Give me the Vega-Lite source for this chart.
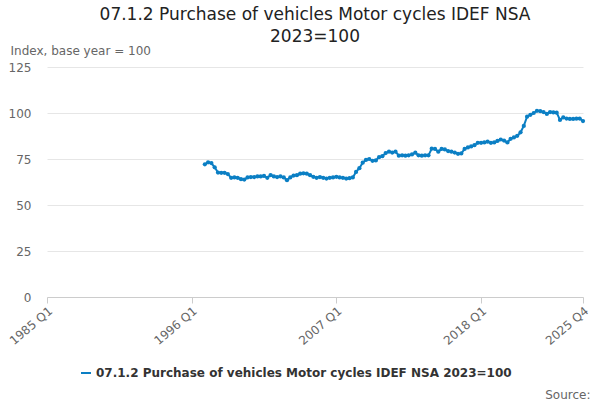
{
  "$schema": "https://vega.github.io/schema/vega-lite/v6.json",
  "autosize": "none",
  "width": 536,
  "height": 230,
  "padding": {"left": 47, "top": 67, "right": 17, "bottom": 103},
  "title": {
    "text": ["07.1.2 Purchase of vehicles Motor cycles IDEF NSA", "2023=100"],
    "fontSize": 17,
    "fontWeight": "normal",
    "font": "DejaVu Sans",
    "color": "#222",
    "anchor": "middle",
    "offset": -2,
    "lineHeight": 22
  },
  "data": {
    "values": [
      {"date": "1997-01-01", "v": 72.1}, {"date": "1997-04-01", "v": 73.2}, {"date": "1997-07-01", "v": 72.8}, {"date": "1997-10-01", "v": 70.5},
      {"date": "1998-01-01", "v": 67.6}, {"date": "1998-04-01", "v": 67.5}, {"date": "1998-07-01", "v": 67.5}, {"date": "1998-10-01", "v": 66.8},
      {"date": "1999-01-01", "v": 64.8}, {"date": "1999-04-01", "v": 65}, {"date": "1999-07-01", "v": 64.8}, {"date": "1999-10-01", "v": 64},
      {"date": "2000-01-01", "v": 63.8}, {"date": "2000-04-01", "v": 65}, {"date": "2000-07-01", "v": 65.2}, {"date": "2000-10-01", "v": 65.2},
      {"date": "2001-01-01", "v": 65.5}, {"date": "2001-04-01", "v": 65.5}, {"date": "2001-07-01", "v": 65.8}, {"date": "2001-10-01", "v": 64.8},
      {"date": "2002-01-01", "v": 66.3}, {"date": "2002-04-01", "v": 65.5}, {"date": "2002-07-01", "v": 65.2}, {"date": "2002-10-01", "v": 65.5},
      {"date": "2003-01-01", "v": 65}, {"date": "2003-04-01", "v": 63.5}, {"date": "2003-07-01", "v": 65}, {"date": "2003-10-01", "v": 66},
      {"date": "2004-01-01", "v": 66.2}, {"date": "2004-04-01", "v": 67}, {"date": "2004-07-01", "v": 67.2}, {"date": "2004-10-01", "v": 67},
      {"date": "2005-01-01", "v": 66.2}, {"date": "2005-04-01", "v": 65.3}, {"date": "2005-07-01", "v": 64.8}, {"date": "2005-10-01", "v": 65.2},
      {"date": "2006-01-01", "v": 64.8}, {"date": "2006-04-01", "v": 64.4}, {"date": "2006-07-01", "v": 64.8}, {"date": "2006-10-01", "v": 65},
      {"date": "2007-01-01", "v": 65.3}, {"date": "2007-04-01", "v": 65}, {"date": "2007-07-01", "v": 64.8}, {"date": "2007-10-01", "v": 64.4},
      {"date": "2008-01-01", "v": 64.6}, {"date": "2008-04-01", "v": 65}, {"date": "2008-07-01", "v": 68}, {"date": "2008-10-01", "v": 70},
      {"date": "2009-01-01", "v": 73}, {"date": "2009-04-01", "v": 74.5}, {"date": "2009-07-01", "v": 75}, {"date": "2009-10-01", "v": 74},
      {"date": "2010-01-01", "v": 74.2}, {"date": "2010-04-01", "v": 76}, {"date": "2010-07-01", "v": 76.5}, {"date": "2010-10-01", "v": 78.2},
      {"date": "2011-01-01", "v": 79}, {"date": "2011-04-01", "v": 78.5}, {"date": "2011-07-01", "v": 79}, {"date": "2011-10-01", "v": 76.8},
      {"date": "2012-01-01", "v": 77}, {"date": "2012-04-01", "v": 76.8}, {"date": "2012-07-01", "v": 77}, {"date": "2012-10-01", "v": 77.5},
      {"date": "2013-01-01", "v": 78.4}, {"date": "2013-04-01", "v": 77}, {"date": "2013-07-01", "v": 76.8}, {"date": "2013-10-01", "v": 77},
      {"date": "2014-01-01", "v": 77}, {"date": "2014-04-01", "v": 80.6}, {"date": "2014-07-01", "v": 80.5}, {"date": "2014-10-01", "v": 79},
      {"date": "2015-01-01", "v": 80.5}, {"date": "2015-04-01", "v": 80.2}, {"date": "2015-07-01", "v": 79.3}, {"date": "2015-10-01", "v": 79},
      {"date": "2016-01-01", "v": 78.5}, {"date": "2016-04-01", "v": 77.8}, {"date": "2016-07-01", "v": 78}, {"date": "2016-10-01", "v": 80.5},
      {"date": "2017-01-01", "v": 81.3}, {"date": "2017-04-01", "v": 81.8}, {"date": "2017-07-01", "v": 82.5}, {"date": "2017-10-01", "v": 83.8},
      {"date": "2018-01-01", "v": 83.8}, {"date": "2018-04-01", "v": 84}, {"date": "2018-07-01", "v": 84.4}, {"date": "2018-10-01", "v": 83.8},
      {"date": "2019-01-01", "v": 84}, {"date": "2019-04-01", "v": 84.8}, {"date": "2019-07-01", "v": 85.6}, {"date": "2019-10-01", "v": 85},
      {"date": "2020-01-01", "v": 84}, {"date": "2020-04-01", "v": 86}, {"date": "2020-07-01", "v": 86.7}, {"date": "2020-10-01", "v": 87.6},
      {"date": "2021-01-01", "v": 89.5}, {"date": "2021-04-01", "v": 93}, {"date": "2021-07-01", "v": 98}, {"date": "2021-10-01", "v": 99},
      {"date": "2022-01-01", "v": 100}, {"date": "2022-04-01", "v": 101.2}, {"date": "2022-07-01", "v": 101}, {"date": "2022-10-01", "v": 100.5},
      {"date": "2023-01-01", "v": 99.5}, {"date": "2023-04-01", "v": 100.5}, {"date": "2023-07-01", "v": 100.3}, {"date": "2023-10-01", "v": 100.2},
      {"date": "2024-01-01", "v": 96.2}, {"date": "2024-04-01", "v": 97.6}, {"date": "2024-07-01", "v": 97}, {"date": "2024-10-01", "v": 96.8},
      {"date": "2025-01-01", "v": 96.8}, {"date": "2025-04-01", "v": 96.9}, {"date": "2025-07-01", "v": 97}, {"date": "2025-10-01", "v": 95.6}
    ]
  },
  "mark": {"type": "line", "strokeWidth": 2, "point": {"size": 18, "filled": true}},
  "encoding": {
    "x": {
      "field": "date",
      "type": "temporal",
      "scale": {"domain": ["1985-01-01", "2025-10-01"]},
      "axis": {
        "title": "Source:",
        "titleX": 543,
        "titleY": 92,
        "titleAlign": "right",
        "titleFontSize": 12,
        "titleFontWeight": "normal",
        "titleColor": "#666",
        "values": ["1985-01-01", "1996-01-01", "2007-01-01", "2018-01-01", "2025-10-01"],
        "labelExpr": "timeFormat(datum.value, '%Y') + ' Q' + (floor(month(datum.value) / 3) + 1)",
        "labelAngle": -40,
        "labelAlign": "right",
        "labelBaseline": "top",
        "labelFontSize": 12,
        "labelColor": "#666",
        "grid": false,
        "domainColor": "#ccc",
        "tickColor": "#ccc",
        "tickSize": 6
      }
    },
    "y": {
      "field": "v",
      "type": "quantitative",
      "scale": {"domain": [0, 125]},
      "axis": {
        "values": [0, 25, 50, 75, 100, 125],
        "title": "Index, base year = 100",
        "titleAngle": 0,
        "titleAlign": "left",
        "titleBaseline": "bottom",
        "titleX": -37,
        "titleY": -10,
        "titleFontSize": 12,
        "titleFontWeight": "normal",
        "titleColor": "#666",
        "labelFontSize": 12,
        "labelColor": "#666",
        "labelPadding": 16,
        "domain": false,
        "ticks": false,
        "gridColor": "#e6e6e6"
      }
    },
    "color": {
      "datum": "07.1.2 Purchase of vehicles Motor cycles IDEF NSA 2023=100",
      "scale": {"range": ["#0b7fc4"]},
      "legend": {
        "title": null,
        "orient": "none",
        "legendX": 33,
        "legendY": 300,
        "labelFontSize": 12,
        "labelFontWeight": "bold",
        "labelColor": "#333",
        "labelLimit": 500,
        "symbolType": "stroke",
        "symbolStrokeWidth": 2
      }
    }
  },
  "config": {
    "font": "DejaVu Sans",
    "view": {"stroke": null}
  }
}
